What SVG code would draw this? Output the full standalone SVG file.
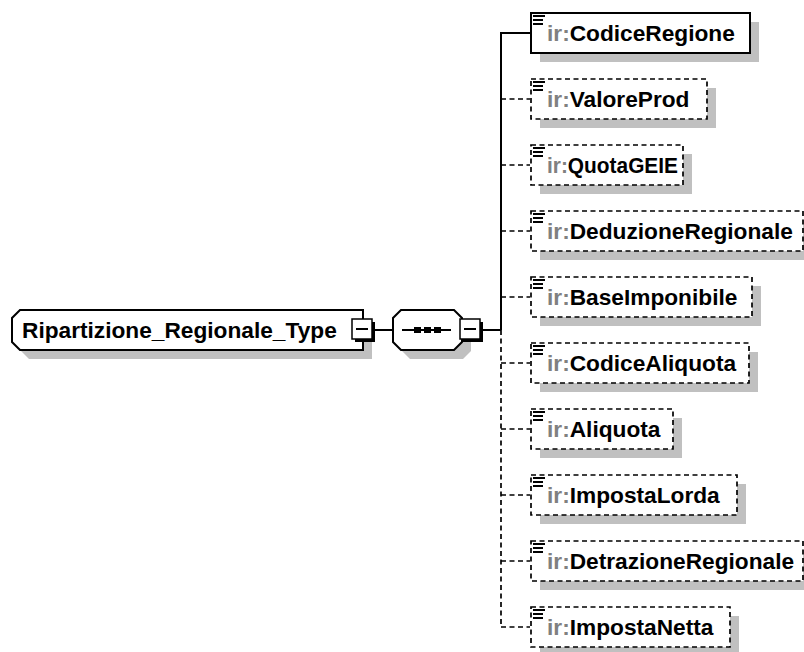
<svg xmlns="http://www.w3.org/2000/svg" width="804" height="652" viewBox="0 0 804 652">
<style>
.bg{fill:#fff}
.sh{fill:#c0c0c0}
.box{fill:#fff;stroke:#000;stroke-width:2}
.dbox{fill:#fff;stroke:#000;stroke-width:1.7;stroke-dasharray:5 3.5}
.ln{stroke:#000;stroke-width:2;fill:none}
.dl{stroke:#000;stroke-width:1.7;stroke-dasharray:5 3.5;fill:none}
.t{font-family:"Liberation Sans",Arial,sans-serif;font-weight:bold;font-size:22.7px;fill:#000}
.ns{fill:#808080}
.ic{stroke:#000;stroke-width:2;fill:none}
.mb{fill:#fff;stroke:#000;stroke-width:1.5}
.ms{fill:#000}
</style>
<rect class="bg" x="0" y="0" width="804" height="652"/>
<g id="connectors">
<line class="ln" x1="374" y1="330" x2="393" y2="330"/>
<line class="ln" x1="483" y1="330" x2="501" y2="330"/>
<polyline class="ln" points="530,33 501,33 501,330"/>
<line class="dl" x1="501" y1="330" x2="501" y2="627"/>
<line class="dl" x1="501" y1="99" x2="530" y2="99"/>
<line class="dl" x1="501" y1="165" x2="530" y2="165"/>
<line class="dl" x1="501" y1="231" x2="530" y2="231"/>
<line class="dl" x1="501" y1="297" x2="530" y2="297"/>
<line class="dl" x1="501" y1="363" x2="530" y2="363"/>
<line class="dl" x1="501" y1="429" x2="530" y2="429"/>
<line class="dl" x1="501" y1="495" x2="530" y2="495"/>
<line class="dl" x1="501" y1="561" x2="530" y2="561"/>
<line class="dl" x1="501" y1="627" x2="530" y2="627"/>
</g>
<g id="type">
<path class="sh" d="M29,319 L372,319 L372,359 L29,359 L21,351 L21,327 Z"/>
<path class="box" d="M20,310 L363,310 L363,350 L20,350 L12,342 L12,318 Z"/>
<text class="t" x="22" y="338">Ripartizione_Regionale_Type</text>
<rect class="ms" x="355" y="322" width="20" height="20"/>
<rect class="mb" x="352" y="319" width="20" height="20"/>
<line class="ic" x1="356" y1="329" x2="368" y2="329"/>
</g>
<g id="sequence">
<path class="sh" d="M410,319 L463,319 L471,327 L471,351 L463,359 L410,359 L402,351 L402,327 Z"/>
<path class="box" d="M401,310 L454,310 L462,318 L462,342 L454,350 L401,350 L393,342 L393,318 Z"/>
<line class="ln" x1="402" y1="330" x2="451" y2="330"/>
<rect class="ms" x="414" y="327" width="7" height="6"/>
<rect class="ms" x="424" y="327" width="7" height="6"/>
<rect class="ms" x="434" y="327" width="7" height="6"/>
<rect class="ms" x="463" y="322" width="20" height="20"/>
<rect class="mb" x="460" y="319" width="20" height="20"/>
<line class="ic" x1="464" y1="329" x2="476" y2="329"/>
</g>
<g id="e1">
<rect class="sh" x="540" y="22" width="219" height="40"/>
<rect class="box" x="531" y="13" width="219" height="40"/>
<path class="ic" d="M533,16h12M533,20h10M533,24h10"/>
<text class="t" x="547" y="41"><tspan class="ns">ir:</tspan>CodiceRegione</text>
</g>
<g id="e2">
<rect class="sh" x="540" y="88" width="176" height="40"/>
<rect class="dbox" x="531" y="79" width="176" height="40"/>
<path class="ic" d="M533,82h12M533,86h10M533,90h10"/>
<text class="t" x="547" y="107"><tspan class="ns">ir:</tspan>ValoreProd</text>
</g>
<g id="e3">
<rect class="sh" x="540" y="154" width="152" height="40"/>
<rect class="dbox" x="531" y="145" width="152" height="40"/>
<path class="ic" d="M533,148h12M533,152h10M533,156h10"/>
<text class="t" x="547" y="173" textLength="131" lengthAdjust="spacingAndGlyphs"><tspan class="ns">ir:</tspan>QuotaGEIE</text>
</g>
<g id="e4">
<rect class="sh" x="540" y="220" width="272" height="40"/>
<rect class="dbox" x="531" y="211" width="272" height="40"/>
<path class="ic" d="M533,214h12M533,218h10M533,222h10"/>
<text class="t" x="547" y="239"><tspan class="ns">ir:</tspan>DeduzioneRegionale</text>
</g>
<g id="e5">
<rect class="sh" x="540" y="286" width="221" height="40"/>
<rect class="dbox" x="531" y="277" width="221" height="40"/>
<path class="ic" d="M533,280h12M533,284h10M533,288h10"/>
<text class="t" x="547" y="305"><tspan class="ns">ir:</tspan>BaseImponibile</text>
</g>
<g id="e6">
<rect class="sh" x="540" y="352" width="218" height="40"/>
<rect class="dbox" x="531" y="343" width="218" height="40"/>
<path class="ic" d="M533,346h12M533,350h10M533,354h10"/>
<text class="t" x="547" y="371"><tspan class="ns">ir:</tspan>CodiceAliquota</text>
</g>
<g id="e7">
<rect class="sh" x="540" y="418" width="142" height="40"/>
<rect class="dbox" x="531" y="409" width="142" height="40"/>
<path class="ic" d="M533,412h12M533,416h10M533,420h10"/>
<text class="t" x="547" y="437"><tspan class="ns">ir:</tspan>Aliquota</text>
</g>
<g id="e8">
<rect class="sh" x="540" y="484" width="206" height="40"/>
<rect class="dbox" x="531" y="475" width="206" height="40"/>
<path class="ic" d="M533,478h12M533,482h10M533,486h10"/>
<text class="t" x="547" y="503"><tspan class="ns">ir:</tspan>ImpostaLorda</text>
</g>
<g id="e9">
<rect class="sh" x="540" y="550" width="272" height="40"/>
<rect class="dbox" x="531" y="541" width="272" height="40"/>
<path class="ic" d="M533,544h12M533,548h10M533,552h10"/>
<text class="t" x="547" y="569"><tspan class="ns">ir:</tspan>DetrazioneRegionale</text>
</g>
<g id="e10">
<rect class="sh" x="540" y="616" width="199" height="40"/>
<rect class="dbox" x="531" y="607" width="199" height="40"/>
<path class="ic" d="M533,610h12M533,614h10M533,618h10"/>
<text class="t" x="547" y="635"><tspan class="ns">ir:</tspan>ImpostaNetta</text>
</g>
</svg>
